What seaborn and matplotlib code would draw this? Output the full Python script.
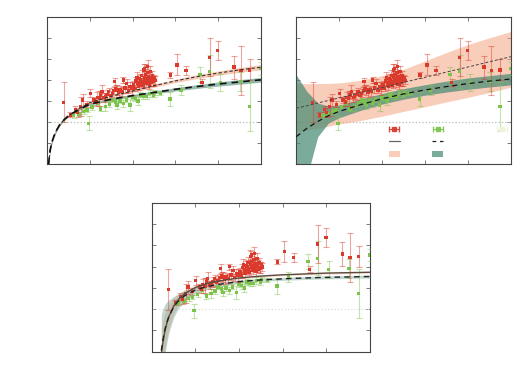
import matplotlib
matplotlib.use("Agg")
import matplotlib.pyplot as plt
import numpy as np
import pandas as pd
import seaborn as sns
from matplotlib.lines import Line2D
from matplotlib.patches import Patch

red_x = [0.38, 0.54, 0.66, 0.71, 0.78, 0.83, 0.93, 1.01, 1.09, 1.14, 1.17, 1.22, 1.25, 1.28,
         1.33, 1.36, 1.40, 1.44, 1.48, 1.52, 1.56, 1.58, 1.60, 1.63, 1.67, 1.72, 1.75, 1.78,
         1.82, 1.86, 1.90, 1.94, 1.98, 2.02, 2.06, 2.08, 2.10, 2.12, 2.14, 2.16, 2.18, 2.19,
         2.21, 2.22, 2.24, 2.26, 2.27, 2.28, 2.29, 2.30, 2.31, 2.33, 2.34, 2.35, 2.36, 2.37,
         2.39, 2.40, 2.41, 2.43, 2.44, 2.46, 2.47, 2.49, 2.51, 2.53, 2.88, 3.04, 3.25, 3.62,
         3.80, 3.99, 4.37, 4.54, 4.74]
red_y = [2.93, 2.33, 2.60, 2.45, 2.73, 3.04, 2.84, 3.36, 3.04, 2.95, 3.17, 3.10, 3.28, 3.44,
         3.15, 3.20, 3.30, 3.44, 3.25, 3.36, 3.49, 3.91, 3.60, 3.52, 3.40, 3.55, 3.44, 4.00,
         3.62, 3.83, 3.50, 3.68, 3.58, 3.75, 3.60, 3.95, 4.10, 3.85, 3.70, 4.05, 4.00, 3.80,
         4.20, 3.90, 3.75, 4.47, 4.10, 4.55, 3.95, 4.25, 3.85, 4.05, 4.35, 4.63, 3.90, 4.15,
         3.80, 4.00, 4.39, 4.10, 3.88, 4.20, 3.95, 3.91, 4.08, 3.98, 4.23, 4.71, 4.44, 3.88,
         5.07, 5.39, 4.60, 4.44, 4.47]
red_err = [0.95, 0.12, 0.15, 0.20, 0.45, 0.30, 0.15, 0.20, 0.15, 0.20, 0.25, 0.35, 0.20, 0.30,
           0.20, 0.15, 0.20, 0.15, 0.20, 0.20, 0.15, 0.20, 0.15, 0.25, 0.20, 0.15, 0.20, 0.15,
           0.25, 0.20, 0.15, 0.20, 0.30, 0.20, 0.15, 0.20, 0.25, 0.15, 0.20, 0.20, 0.30, 0.15,
           0.25, 0.20, 0.15, 0.30, 0.20, 0.20, 0.15, 0.25, 0.20, 0.20, 0.30, 0.30, 0.15, 0.20,
           0.25, 0.15, 0.25, 0.20, 0.15, 0.20, 0.25, 0.20, 0.15, 0.20, 0.12, 0.50, 0.20, 0.15,
           0.90, 0.45, 0.55, 1.15, 0.50]

green_x = [0.62, 0.74, 0.85, 0.93, 0.97, 1.05, 1.17, 1.25, 1.36, 1.45, 1.52, 1.60, 1.63, 1.70,
           1.78, 1.85, 1.94, 2.00, 2.06, 2.12, 2.18, 2.25, 2.33, 2.40, 2.49, 2.52, 2.65, 2.87,
           3.13, 3.58, 3.80, 4.05, 4.52, 4.74, 5.00]
green_y = [2.30, 2.38, 2.50, 2.57, 1.93, 2.70, 2.88, 2.62, 2.73, 2.85, 3.04, 2.95, 2.80, 3.00,
           2.88, 3.05, 2.80, 3.15, 3.12, 3.00, 3.28, 3.22, 3.20, 3.35, 3.28, 3.40, 3.36, 3.09,
           3.52, 4.26, 4.39, 3.88, 3.92, 2.73, 4.55]
green_err = [0.10, 0.10, 0.12, 0.10, 0.33, 0.12, 0.10, 0.12, 0.20, 0.12, 0.10, 0.15, 0.20, 0.12,
             0.15, 0.12, 0.30, 0.12, 0.15, 0.20, 0.12, 0.15, 0.10, 0.15, 0.12, 0.10, 0.10, 0.35,
             0.25, 0.35, 0.80, 0.40, 0.45, 1.15, 0.30]

ref_level = 2.0

# --- fit A (log-like growth) ---
fitA_x = [0.03, 0.06, 0.1, 0.15, 0.2, 0.3, 0.4, 0.5, 0.75, 1.0, 1.5, 2.0, 2.5, 3.0, 3.5, 4.0, 4.5, 5.0]
fitA_red = [0.0, 0.55, 1.0, 1.3, 1.55, 1.9, 2.12, 2.3, 2.65, 2.92, 3.22, 3.47, 3.72, 3.95, 4.15, 4.32, 4.47, 4.6]
fitA_red_hw = [0.08, 0.07, 0.06, 0.05, 0.05, 0.05, 0.05, 0.05, 0.05, 0.05, 0.05, 0.06, 0.07, 0.08, 0.09, 0.1, 0.11, 0.12]
fitA_green = [0.0, 0.6, 1.0, 1.3, 1.55, 1.9, 2.12, 2.3, 2.6, 2.85, 3.08, 3.25, 3.4, 3.55, 3.68, 3.8, 3.9, 4.0]
fitA_green_hw = [0.12, 0.1, 0.08, 0.07, 0.06, 0.05, 0.05, 0.05, 0.05, 0.05, 0.05, 0.06, 0.07, 0.08, 0.09, 0.1, 0.11, 0.11]

# --- fit B (linear red / curved green) ---
fitB_x = [0.0, 0.25, 0.5, 0.75, 1.0, 1.5, 2.0, 2.5, 3.0, 3.5, 4.0, 4.5, 5.0]
fitB_red = [2.65, 2.77, 2.9, 3.02, 3.14, 3.39, 3.63, 3.88, 4.12, 4.37, 4.61, 4.86, 5.1]
fitB_red_lo = [1.55, 1.62, 1.7, 1.8, 1.9, 2.07, 2.27, 2.5, 2.72, 2.95, 3.17, 3.4, 3.65]
fitB_red_hi = [3.82, 3.82, 3.82, 3.83, 3.85, 3.98, 4.2, 4.5, 4.9, 5.3, 5.68, 6.0, 6.3]
fitB_green = [1.3, 1.7, 2.02, 2.3, 2.5, 2.82, 3.1, 3.33, 3.52, 3.68, 3.82, 3.94, 4.04]
fitB_green_lo = [-1.5, -0.6, 1.3, 1.95, 2.2, 2.55, 2.85, 3.08, 3.27, 3.42, 3.55, 3.66, 3.76]
fitB_green_hi = [4.23, 3.44, 2.9, 2.75, 2.8, 3.08, 3.35, 3.58, 3.77, 3.94, 4.09, 4.2, 4.31]

# --- fit C (saturating) ---
fitC_x = [0.22, 0.25, 0.3, 0.35, 0.4, 0.5, 0.6, 0.75, 1.0, 1.25, 1.5, 2.0, 2.5, 3.0, 3.5, 4.0, 4.5, 5.0]
fitC_red = [-0.15, 0.34, 0.94, 1.36, 1.68, 2.13, 2.43, 2.73, 3.02, 3.2, 3.32, 3.47, 3.56, 3.62, 3.66, 3.7, 3.72, 3.74]
fitC_red_hw = [1.2, 1.1, 0.9, 0.7, 0.55, 0.38, 0.28, 0.2, 0.12, 0.09, 0.07, 0.05, 0.05, 0.05, 0.05, 0.05, 0.05, 0.05]
fitC_green = [0.05, 0.48, 1.02, 1.4, 1.69, 2.09, 2.36, 2.63, 2.9, 3.06, 3.16, 3.3, 3.38, 3.43, 3.47, 3.5, 3.52, 3.54]
fitC_green_hw = [1.7, 1.5, 1.2, 0.95, 0.75, 0.5, 0.36, 0.25, 0.16, 0.12, 0.1, 0.08, 0.07, 0.07, 0.07, 0.07, 0.07, 0.07]

RED = "#d93a2b"
GREEN = "#7cc34c"
PINK = "#f4a582"
TEAL = "#4f8f78"

red = pd.DataFrame({"x": red_x, "y": red_y, "err": red_err})
green = pd.DataFrame({"x": green_x, "y": green_y, "err": green_err})

sns.set_theme(style="ticks")
plt.rcParams["font.family"] = ["DejaVu Sans"]

fig = plt.figure(figsize=(5.2, 3.91), dpi=100)
ax1 = fig.add_axes([0.091, 0.5806, 0.4105, 0.3767])
ax2 = fig.add_axes([0.5698, 0.5806, 0.4130, 0.3767])
ax3 = fig.add_axes([0.2917, 0.1005, 0.4198, 0.3803])


def draw_points(ax):
    for df, col in ((green, GREEN), (red, RED)):
        ax.errorbar(df["x"], df["y"], yerr=df["err"], fmt="none", ecolor=col, alpha=0.45,
                    elinewidth=0.8, capsize=2.2, capthick=0.8, zorder=3)
        sns.scatterplot(data=df, x="x", y="y", marker="s", s=6, color=col,
                        edgecolor="none", ax=ax, zorder=4, legend=False)


def style_axes(ax):
    ax.set_xlim(0, 5)
    ax.set_ylim(0, 7)
    ax.set_xticks([1, 2, 3, 4])
    ax.set_yticks([1, 2, 3, 4, 5, 6])
    ax.tick_params(direction="in", top=True, right=True, length=3, width=0.6,
                   color="#666666", labelbottom=False, labelleft=False)
    ax.set_xlabel("")
    ax.set_ylabel("")
    for sp in ax.spines.values():
        sp.set_color("#444444")
        sp.set_linewidth(0.8)


# panel A
ax1.axhline(ref_level, color="#bbbbbb", ls=":", lw=0.9, zorder=1)
lo = np.array(fitA_red) - np.array(fitA_red_hw)
hi = np.array(fitA_red) + np.array(fitA_red_hw)
ax1.fill_between(fitA_x, lo, hi, color=PINK, alpha=0.6, lw=0, zorder=2)
lo = np.array(fitA_green) - np.array(fitA_green_hw)
hi = np.array(fitA_green) + np.array(fitA_green_hw)
ax1.fill_between(fitA_x, lo, hi, color=TEAL, alpha=0.6, lw=0, zorder=2)
draw_points(ax1)
sns.lineplot(x=fitA_x, y=fitA_red, ax=ax1, color="#333333", lw=0.8, zorder=5)
ax1.lines[-1].set_dashes([3, 2])
sns.lineplot(x=fitA_x, y=fitA_green, ax=ax1, color="#111111", lw=1.2, zorder=5)
ax1.lines[-1].set_dashes([4, 3])
style_axes(ax1)

# panel B
ax2.axhline(ref_level, color="#bbbbbb", ls=":", lw=0.9, zorder=1)
ax2.fill_between(fitB_x, fitB_red_lo, fitB_red_hi, color=PINK, alpha=0.55, lw=0, zorder=1.5)
ax2.fill_between(fitB_x, fitB_green_lo, fitB_green_hi, color=TEAL, alpha=0.75, lw=0, zorder=2)
draw_points(ax2)
sns.lineplot(x=fitB_x, y=fitB_red, ax=ax2, color="#444444", lw=0.7, zorder=5)
ax2.lines[-1].set_dashes([3, 2])
sns.lineplot(x=fitB_x, y=fitB_green, ax=ax2, color="#111111", lw=0.9, zorder=5)
ax2.lines[-1].set_dashes([4, 3])
style_axes(ax2)

h_red = ax2.errorbar([np.nan], [np.nan], xerr=[np.nan], fmt="s", ms=2.5, color=RED,
                     ecolor=RED, elinewidth=0.8, capsize=2, alpha=0.9)
h_green = ax2.errorbar([np.nan], [np.nan], xerr=[np.nan], fmt="s", ms=2.5, color=GREEN,
                       ecolor=GREEN, elinewidth=0.8, capsize=2, alpha=0.9)
h_faint = ax2.errorbar([np.nan], [np.nan], xerr=[np.nan], fmt="s", ms=2.5, color="#eef4dc",
                       ecolor="#eef4dc", elinewidth=0.8, capsize=2)
h_solid = Line2D([], [], color="#666666", lw=0.9)
h_dash = Line2D([], [], color="#222222", lw=0.9, dashes=[3, 3])
h_pink = Patch(facecolor=PINK, alpha=0.55, lw=0)
h_teal = Patch(facecolor=TEAL, alpha=0.75, lw=0)
leg = ax2.legend([h_red, h_solid, h_pink, h_green, h_dash, h_teal], [""] * 6, ncol=2,
                 frameon=False, fontsize=7, loc="upper left", bbox_to_anchor=(0.409, 0.305),
                 borderpad=0, handlelength=1.1, handletextpad=0, columnspacing=3.36,
                 labelspacing=0.28, handleheight=0.7)
ax2.add_artist(leg)
ax2.legend([h_faint], [""], frameon=False, fontsize=7, loc="upper left",
           bbox_to_anchor=(0.91, 0.305), borderpad=0, handlelength=1.1, handletextpad=0)

# panel C
ax3.axhline(ref_level, color="#dddddd", ls=":", lw=0.9, zorder=1)
lo = np.array(fitC_red) - np.array(fitC_red_hw)
hi = np.array(fitC_red) + np.array(fitC_red_hw)
ax3.fill_between(fitC_x, lo, hi, color=PINK, alpha=0.35, lw=0, zorder=2)
lo = np.array(fitC_green) - np.array(fitC_green_hw)
hi = np.array(fitC_green) + np.array(fitC_green_hw)
ax3.fill_between(fitC_x, lo, hi, color=TEAL, alpha=0.35, lw=0, zorder=2)
draw_points(ax3)
sns.lineplot(x=fitC_x, y=fitC_red, ax=ax3, color="#5a4a40", lw=1.0, zorder=5)
sns.lineplot(x=fitC_x, y=fitC_green, ax=ax3, color="#222222", lw=1.0, zorder=5)
ax3.lines[-1].set_dashes([4, 3])
style_axes(ax3)

fig.savefig("out.png", dpi=100)
